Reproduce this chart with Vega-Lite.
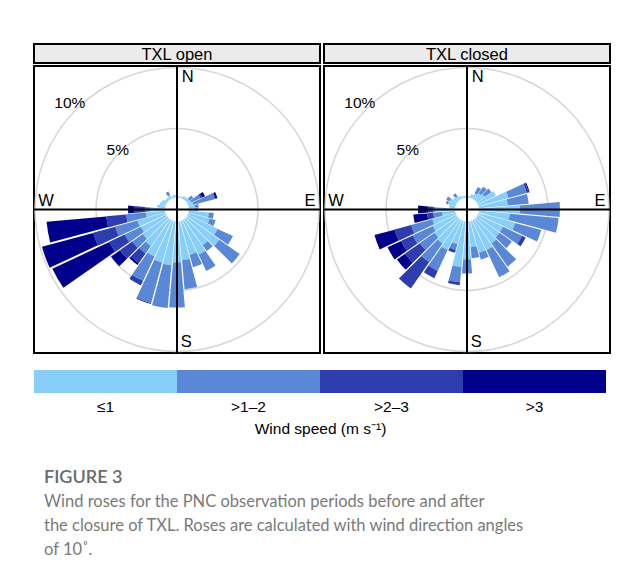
{
  "$schema": "https://vega.github.io/schema/vega-lite/v6.json",
  "background": "white",
  "padding": {"left": 32, "top": 43, "right": 16, "bottom": 4},
  "config": {"view": {"stroke": null}, "font": "Liberation Sans"},
  "datasets": {
    "grid": [{"g": 5}, {"g": 10}],
    "classes": [{"cls": "c1", "lab": "≤1"}, {"cls": "c2", "lab": ">1–2"}, {"cls": "c3", "lab": ">2–3"}, {"cls": "c4", "lab": ">3"}],
    "open": [
      {"wd": 10, "c1": 0.11, "c2": 0, "c3": 0, "c4": 0},
      {"wd": 20, "c1": 0.11, "c2": 0, "c3": 0, "c4": 0},
      {"wd": 30, "c1": 0.22, "c2": 0, "c3": 0, "c4": 0},
      {"wd": 40, "c1": 0.22, "c2": 0, "c3": 0, "c4": 0},
      {"wd": 50, "c1": 0.22, "c2": 0.36, "c3": 0, "c4": 0},
      {"wd": 60, "c1": 0.29, "c2": 0.72, "c3": 0.15, "c4": 0.22},
      {"wd": 70, "c1": 0.36, "c2": 1.6, "c3": 0.07, "c4": 0.14},
      {"wd": 80, "c1": 0.43, "c2": 0.29, "c3": 0, "c4": 0},
      {"wd": 90, "c1": 0.51, "c2": 0.14, "c3": 0, "c4": 0},
      {"wd": 100, "c1": 1.45, "c2": 0.36, "c3": 0, "c4": 0},
      {"wd": 110, "c1": 1.59, "c2": 0.44, "c3": 0, "c4": 0},
      {"wd": 120, "c1": 2.39, "c2": 1.23, "c3": 0, "c4": 0},
      {"wd": 130, "c1": 2.9, "c2": 1.81, "c3": 0, "c4": 0},
      {"wd": 140, "c1": 2.32, "c2": 0.51, "c3": 0, "c4": 0},
      {"wd": 150, "c1": 2.75, "c2": 1.31, "c3": 0, "c4": 0},
      {"wd": 160, "c1": 2.54, "c2": 0.94, "c3": 0, "c4": 0},
      {"wd": 170, "c1": 2.83, "c2": 2.1, "c3": 0, "c4": 0},
      {"wd": 180, "c1": 2.97, "c2": 3.42, "c3": 0, "c4": 0},
      {"wd": 190, "c1": 3.19, "c2": 3.29, "c3": 0, "c4": 0},
      {"wd": 200, "c1": 3.12, "c2": 3.19, "c3": 0.08, "c4": 0},
      {"wd": 210, "c1": 2.9, "c2": 1.96, "c3": 0.39, "c4": 0},
      {"wd": 220, "c1": 2.39, "c2": 0.65, "c3": 0.87, "c4": 0.15},
      {"wd": 230, "c1": 2.17, "c2": 0.95, "c3": 1.08, "c4": 0.8},
      {"wd": 240, "c1": 2.03, "c2": 1.3, "c3": 1.24, "c4": 5.1},
      {"wd": 250, "c1": 2.1, "c2": 1.67, "c3": 1.72, "c4": 4.35},
      {"wd": 260, "c1": 1.38, "c2": 1.45, "c3": 1.45, "c4": 4.82},
      {"wd": 270, "c1": 1.09, "c2": 0.36, "c3": 0.8, "c4": 0.43},
      {"wd": 280, "c1": 0.58, "c2": 0, "c3": 0, "c4": 0},
      {"wd": 290, "c1": 0.43, "c2": 0, "c3": 0, "c4": 0},
      {"wd": 300, "c1": 0.36, "c2": 0, "c3": 0, "c4": 0},
      {"wd": 310, "c1": 0.22, "c2": 0, "c3": 0, "c4": 0},
      {"wd": 320, "c1": 0.22, "c2": 0, "c3": 0, "c4": 0},
      {"wd": 330, "c1": 0.29, "c2": 0.29, "c3": 0, "c4": 0},
      {"wd": 340, "c1": 0.14, "c2": 0, "c3": 0, "c4": 0},
      {"wd": 350, "c1": 0.22, "c2": 0, "c3": 0, "c4": 0},
      {"wd": 360, "c1": 0.07, "c2": 0, "c3": 0, "c4": 0}
    ],
    "closed": [
      {"wd": 10, "c1": 0.14, "c2": 0, "c3": 0, "c4": 0},
      {"wd": 20, "c1": 0.29, "c2": 0, "c3": 0, "c4": 0},
      {"wd": 30, "c1": 0.43, "c2": 0.51, "c3": 0, "c4": 0},
      {"wd": 40, "c1": 0.58, "c2": 0.58, "c3": 0, "c4": 0},
      {"wd": 50, "c1": 0.72, "c2": 0.58, "c3": 0, "c4": 0},
      {"wd": 60, "c1": 1.45, "c2": 0, "c3": 0, "c4": 0},
      {"wd": 70, "c1": 2.25, "c2": 1.37, "c3": 0.15, "c4": 0.07},
      {"wd": 80, "c1": 2.1, "c2": 1.52, "c3": 0, "c4": 0},
      {"wd": 90, "c1": 2.97, "c2": 3.01, "c3": 0, "c4": 0},
      {"wd": 100, "c1": 2.25, "c2": 3.65, "c3": 0, "c4": 0},
      {"wd": 110, "c1": 2.75, "c2": 1.96, "c3": 0, "c4": 0},
      {"wd": 120, "c1": 2.03, "c2": 1.52, "c3": 0.29, "c4": 0},
      {"wd": 130, "c1": 2.03, "c2": 1.09, "c3": 0, "c4": 0},
      {"wd": 140, "c1": 2.17, "c2": 2.03, "c3": 0, "c4": 0},
      {"wd": 150, "c1": 2.39, "c2": 2.18, "c3": 0, "c4": 0},
      {"wd": 160, "c1": 2.39, "c2": 0.51, "c3": 0, "c4": 0},
      {"wd": 170, "c1": 1.88, "c2": 0.8, "c3": 0, "c4": 0},
      {"wd": 180, "c1": 2.75, "c2": 1.02, "c3": 0, "c4": 0},
      {"wd": 190, "c1": 3.33, "c2": 1.09, "c3": 0.22, "c4": 0},
      {"wd": 200, "c1": 1.74, "c2": 0.43, "c3": 0.22, "c4": 0},
      {"wd": 210, "c1": 2.39, "c2": 1.67, "c3": 0.58, "c4": 0},
      {"wd": 220, "c1": 2.17, "c2": 1.67, "c3": 2.47, "c4": 0},
      {"wd": 230, "c1": 2.03, "c2": 1.3, "c3": 1.31, "c4": 0.77},
      {"wd": 240, "c1": 1.88, "c2": 1.6, "c3": 0.94, "c4": 1.15},
      {"wd": 250, "c1": 1.74, "c2": 1.59, "c3": 1.24, "c4": 1.66},
      {"wd": 260, "c1": 0.94, "c2": 0.65, "c3": 0.44, "c4": 1.01},
      {"wd": 270, "c1": 1.45, "c2": 0.14, "c3": 0.37, "c4": 0.72},
      {"wd": 280, "c1": 0.43, "c2": 0, "c3": 0, "c4": 0},
      {"wd": 290, "c1": 0.58, "c2": 0.14, "c3": 0, "c4": 0},
      {"wd": 300, "c1": 0.51, "c2": 0.29, "c3": 0, "c4": 0},
      {"wd": 310, "c1": 0.36, "c2": 0, "c3": 0, "c4": 0},
      {"wd": 320, "c1": 0.29, "c2": 0.29, "c3": 0, "c4": 0},
      {"wd": 330, "c1": 0.22, "c2": 0, "c3": 0, "c4": 0},
      {"wd": 340, "c1": 0.14, "c2": 0, "c3": 0, "c4": 0},
      {"wd": 350, "c1": 0.14, "c2": 0, "c3": 0, "c4": 0},
      {"wd": 360, "c1": 0.14, "c2": 0, "c3": 0, "c4": 0}
    ]
  },
  "title": {
    "text": "FIGURE 3",
    "subtitle": ["Wind roses for the PNC observation periods before and after", "the closure of TXL. Roses are calculated with wind direction angles", "of 10˚."],
    "orient": "bottom", "anchor": "start", "frame": "group", "offset": 32, "dx": 10,
    "font": "Lato", "fontSize": 18, "fontWeight": 600, "color": "#6b6b6b",
    "subtitleFont": "Lato", "subtitleFontSize": 16.5, "subtitleColor": "#7a7a7a", "subtitleLineHeight": 24, "subtitlePadding": 7
  },
  "spacing": 15,
  "vconcat": [
    {
      "spacing": 0,
      "hconcat": [
        {
          "spacing": 0,
          "vconcat": [
            {
              "width": 286, "height": 19,
              "view": {"fill": "#ebebeb", "stroke": "black", "strokeWidth": 2},
              "data": {"values": [{"t": "TXL open"}]},
              "mark": {"type": "text", "fontSize": 16.5, "font": "Liberation Sans", "color": "black", "dy": 1},
              "encoding": {"text": {"field": "t"}}
            },
            {
              "width": 286, "height": 287,
              "view": {"stroke": "black", "strokeWidth": 2},
              "data": {"values": [{}]},
              "layer": [
                {
                  "data": {"name": "grid"},
                  "mark": {"type": "arc", "filled": false, "stroke": "#d6d6d6", "strokeWidth": 1.5, "clip": true},
                  "encoding": {
                    "theta": {"datum": 0, "type": "quantitative", "scale": {"type": "linear", "domain": [0, 360], "range": [0, 6.283185307179586]}},
                    "theta2": {"datum": 360},
                    "radius": {"field": "g", "type": "quantitative", "scale": {"type": "linear", "domain": [0, 5, 10], "range": [12, 81, 142], "zero": false}},
                    "radius2": {"field": "g"}
                  }
                },
                {
                  "data": {"name": "open"},
                  "transform": [
                    {"fold": ["c1", "c2", "c3", "c4"], "as": ["cls", "f"]},
                    {"stack": "f", "groupby": ["wd"], "sort": [{"field": "cls", "order": "ascending"}], "as": ["lo", "hi"]},
                    {"calculate": "datum.wd - 5", "as": "a0"},
                    {"calculate": "datum.wd + 5", "as": "a1"}
                  ],
                  "mark": {"type": "arc", "padAngle": 0.012, "clip": true},
                  "encoding": {
                    "theta": {"field": "a0", "type": "quantitative", "stack": null, "scale": {"type": "linear", "domain": [0, 360], "range": [0, 6.283185307179586]}},
                    "theta2": {"field": "a1"},
                    "radius": {"field": "lo", "type": "quantitative", "scale": {"type": "linear", "domain": [0, 5, 10], "range": [12, 81, 142], "zero": false}},
                    "radius2": {"field": "hi"},
                    "color": {"field": "cls", "type": "nominal", "scale": {"domain": ["c1", "c2", "c3", "c4"], "range": ["#87CEFA", "#5A88D6", "#2D3DAE", "#00008B"]}, "legend": null}
                  }
                },
                {
                  "mark": {"type": "rule", "stroke": "black", "strokeWidth": 2},
                  "encoding": {"x": {"datum": 0, "type": "quantitative", "scale": {"domain": [-1, 1]}, "axis": null}}
                },
                {
                  "mark": {"type": "rule", "stroke": "black", "strokeWidth": 2},
                  "encoding": {"y": {"datum": 0, "type": "quantitative", "scale": {"domain": [-1, 1]}, "axis": null}}
                },
                {
                  "mark": {"type": "text", "fontSize": 16.5, "color": "black", "align": "center"},
                  "encoding": {"x": {"datum": 0.075, "type": "quantitative"}, "y": {"datum": 0.92, "type": "quantitative"}, "text": {"value": "N"}}
                },
                {
                  "mark": {"type": "text", "fontSize": 16.5, "color": "black", "align": "center"},
                  "encoding": {"x": {"datum": 0.065, "type": "quantitative"}, "y": {"datum": -0.92, "type": "quantitative"}, "text": {"value": "S"}}
                },
                {
                  "mark": {"type": "text", "fontSize": 16.5, "color": "black", "align": "center"},
                  "encoding": {"x": {"datum": -0.915, "type": "quantitative"}, "y": {"datum": 0.06, "type": "quantitative"}, "text": {"value": "W"}}
                },
                {
                  "mark": {"type": "text", "fontSize": 16.5, "color": "black", "align": "center"},
                  "encoding": {"x": {"datum": 0.93, "type": "quantitative"}, "y": {"datum": 0.06, "type": "quantitative"}, "text": {"value": "E"}}
                },
                {
                  "mark": {"type": "text", "fontSize": 15.5, "color": "black", "dx": -5, "dy": -8},
                  "encoding": {
                    "theta": {"datum": 314, "type": "quantitative"},
                    "radius": {"datum": 10, "type": "quantitative"},
                    "text": {"value": "10%"}
                  }
                },
                {
                  "mark": {"type": "text", "fontSize": 15.5, "color": "black", "dx": -1, "dy": -3},
                  "encoding": {
                    "theta": {"datum": 314, "type": "quantitative"},
                    "radius": {"datum": 5, "type": "quantitative"},
                    "text": {"value": "5%"}
                  }
                }
              ]
            }
          ]
        },
        {
          "spacing": 0,
          "vconcat": [
            {
              "width": 286, "height": 19,
              "view": {"fill": "#ebebeb", "stroke": "black", "strokeWidth": 2},
              "data": {"values": [{"t": "TXL closed"}]},
              "mark": {"type": "text", "fontSize": 16.5, "font": "Liberation Sans", "color": "black", "dy": 1},
              "encoding": {"text": {"field": "t"}}
            },
            {
              "width": 286, "height": 287,
              "view": {"stroke": "black", "strokeWidth": 2},
              "data": {"values": [{}]},
              "layer": [
                {
                  "data": {"name": "grid"},
                  "mark": {"type": "arc", "filled": false, "stroke": "#d6d6d6", "strokeWidth": 1.5, "clip": true},
                  "encoding": {
                    "theta": {"datum": 0, "type": "quantitative", "scale": {"type": "linear", "domain": [0, 360], "range": [0, 6.283185307179586]}},
                    "theta2": {"datum": 360},
                    "radius": {"field": "g", "type": "quantitative", "scale": {"type": "linear", "domain": [0, 5, 10], "range": [12, 81, 142], "zero": false}},
                    "radius2": {"field": "g"}
                  }
                },
                {
                  "data": {"name": "closed"},
                  "transform": [
                    {"fold": ["c1", "c2", "c3", "c4"], "as": ["cls", "f"]},
                    {"stack": "f", "groupby": ["wd"], "sort": [{"field": "cls", "order": "ascending"}], "as": ["lo", "hi"]},
                    {"calculate": "datum.wd - 5", "as": "a0"},
                    {"calculate": "datum.wd + 5", "as": "a1"}
                  ],
                  "mark": {"type": "arc", "padAngle": 0.012, "clip": true},
                  "encoding": {
                    "theta": {"field": "a0", "type": "quantitative", "stack": null, "scale": {"type": "linear", "domain": [0, 360], "range": [0, 6.283185307179586]}},
                    "theta2": {"field": "a1"},
                    "radius": {"field": "lo", "type": "quantitative", "scale": {"type": "linear", "domain": [0, 5, 10], "range": [12, 81, 142], "zero": false}},
                    "radius2": {"field": "hi"},
                    "color": {"field": "cls", "type": "nominal", "scale": {"domain": ["c1", "c2", "c3", "c4"], "range": ["#87CEFA", "#5A88D6", "#2D3DAE", "#00008B"]}, "legend": null}
                  }
                },
                {
                  "mark": {"type": "rule", "stroke": "black", "strokeWidth": 2},
                  "encoding": {"x": {"datum": 0, "type": "quantitative", "scale": {"domain": [-1, 1]}, "axis": null}}
                },
                {
                  "mark": {"type": "rule", "stroke": "black", "strokeWidth": 2},
                  "encoding": {"y": {"datum": 0, "type": "quantitative", "scale": {"domain": [-1, 1]}, "axis": null}}
                },
                {
                  "mark": {"type": "text", "fontSize": 16.5, "color": "black", "align": "center"},
                  "encoding": {"x": {"datum": 0.075, "type": "quantitative"}, "y": {"datum": 0.92, "type": "quantitative"}, "text": {"value": "N"}}
                },
                {
                  "mark": {"type": "text", "fontSize": 16.5, "color": "black", "align": "center"},
                  "encoding": {"x": {"datum": 0.065, "type": "quantitative"}, "y": {"datum": -0.92, "type": "quantitative"}, "text": {"value": "S"}}
                },
                {
                  "mark": {"type": "text", "fontSize": 16.5, "color": "black", "align": "center"},
                  "encoding": {"x": {"datum": -0.915, "type": "quantitative"}, "y": {"datum": 0.06, "type": "quantitative"}, "text": {"value": "W"}}
                },
                {
                  "mark": {"type": "text", "fontSize": 16.5, "color": "black", "align": "center"},
                  "encoding": {"x": {"datum": 0.93, "type": "quantitative"}, "y": {"datum": 0.06, "type": "quantitative"}, "text": {"value": "E"}}
                },
                {
                  "mark": {"type": "text", "fontSize": 15.5, "color": "black", "dx": -5, "dy": -8},
                  "encoding": {
                    "theta": {"datum": 314, "type": "quantitative"},
                    "radius": {"datum": 10, "type": "quantitative"},
                    "text": {"value": "10%"}
                  }
                },
                {
                  "mark": {"type": "text", "fontSize": 15.5, "color": "black", "dx": -1, "dy": -3},
                  "encoding": {
                    "theta": {"datum": 314, "type": "quantitative"},
                    "radius": {"datum": 5, "type": "quantitative"},
                    "text": {"value": "5%"}
                  }
                }
              ]
            }
          ]
        }
      ]
    },
    {
      "width": 572, "height": 23,
      "data": {"name": "classes"},
      "mark": {"type": "rect"},
      "encoding": {
        "x": {
          "field": "lab", "type": "nominal", "sort": ["≤1", ">1–2", ">2–3", ">3"],
          "scale": {"paddingInner": 0, "paddingOuter": 0},
          "axis": {"orient": "bottom", "ticks": false, "domain": false, "labelAngle": 0, "labelFontSize": 15.5, "labelFont": "Liberation Sans", "labelColor": "black", "labelPadding": 6,
                   "title": "Wind speed (m s⁻¹)", "titleFont": "Liberation Sans", "titleFontSize": 15.5, "titleFontWeight": "normal", "titleColor": "black", "titlePadding": 7}
        },
        "color": {"field": "cls", "type": "nominal", "scale": {"domain": ["c1", "c2", "c3", "c4"], "range": ["#87CEFA", "#5A88D6", "#2D3DAE", "#00008B"]}, "legend": null}
      }
    }
  ]
}
